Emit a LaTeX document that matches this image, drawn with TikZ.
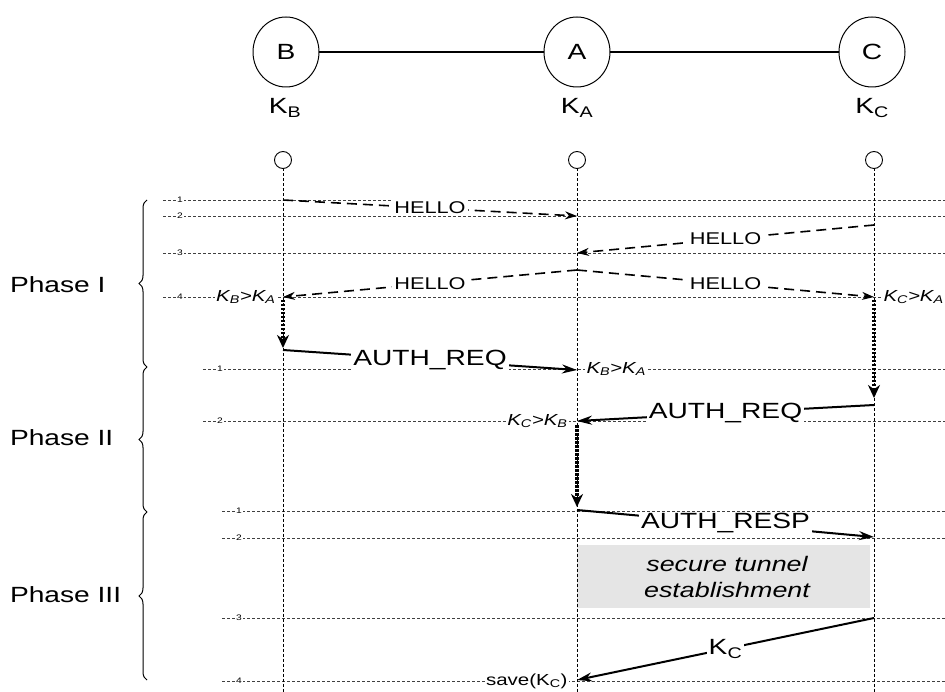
\documentclass[tikz,border=0pt]{standalone}
\usepackage{fontspec}
\setmainfont[FakeStretch=1.28]{Liberation Sans}
\usetikzlibrary{arrows.meta,decorations.pathreplacing,shapes.geometric}
\begin{document}
\begin{tikzpicture}[x=1pt,y=-1pt,
  every node/.style={inner sep=0pt, outer sep=0pt},
  life/.style={line width=0.9pt, dash pattern=on 3pt off 2pt},
  gridl/.style={black!75, line width=0.8pt, dash pattern=on 3pt off 2pt},
  num/.style={fill=white, inner sep=1.5pt, font=\fontsize{8}{8}\selectfont},
  hello/.style={line width=1.6pt, dash pattern=on 10pt off 6pt, -{Stealth[length=12pt,width=8pt]}},
  auth/.style={line width=2pt, -{Stealth[length=15pt,width=9pt]}},
  waitarr/.style={line width=3.6pt, dash pattern=on 2.5pt off 1.5pt, -{Stealth[length=13pt,width=12pt]}},
  msg/.style={fill=white, inner sep=2pt, font=\fontsize{17}{17}\selectfont},
  big/.style={fill=white, inner sep=2pt, font=\fontsize{22}{22}\selectfont},
  cmp/.style={font=\fontsize{16}{16}\selectfont, inner sep=1.5pt, fill=white},
  phase/.style={font=\fontsize{22}{22}\selectfont, anchor=west},
  ent/.style={draw, ellipse, minimum width=66pt, minimum height=70pt, line width=1pt, font=\fontsize{22}{22}\selectfont},
  key/.style={font=\fontsize{22}{22}\selectfont},
  small/.style={draw, circle, minimum size=17pt, line width=0.9pt},
  brc/.style={decorate, decoration={brace, amplitude=8pt}, line width=1pt}
]
\useasboundingbox (0,0) rectangle (945,692);

% entities
\node[ent] (B) at (286,52) {B};
\node[ent] (A) at (577,52) {A};
\node[ent] (C) at (872,52) {C};
\draw[line width=1.6pt] (B) -- (A);
\draw[line width=1.6pt] (A) -- (C);
\node[key] (kB) at (285,108) {K\textsubscript{B}};
\node[key] (kA) at (577,108) {K\textsubscript{A}};
\node[key] (kC) at (872,108) {K\textsubscript{C}};

% tunnel box
\fill[black!10] (577,545) rectangle (870,608);
\node[font=\fontsize{21}{26}\selectfont\itshape, align=center] (tun) at (727,577) {secure tunnel\\establishment};

% grid lines
\foreach \y/\n in {200/1,216/2,253/3,297/4}{
  \draw[gridl] (163,\y) -- (945,\y);
  \node[num] at (180,\y) {\n};
}
\foreach \y/\n in {369/1,421/2}{
  \draw[gridl] (203,\y) -- (945,\y);
  \node[num] at (220,\y) {\n};
}
\foreach \y/\n in {511/1,538/2,618/3,681/4}{
  \draw[gridl] (222,\y) -- (945,\y);
  \node[num] at (239,\y) {\n};
}

% lifelines
\node[small] (sB) at (283,160) {};
\node[small] (sA) at (577,160) {};
\node[small] (sC) at (874,160) {};
\coordinate (eB) at (283,692);
\coordinate (eA) at (577,692);
\coordinate (eC) at (874,692);
\draw[life] (sB) -- (eB);
\draw[life] (sA) -- (eA);
\draw[life] (sC) -- (eC);

% braces
\draw[brc] (147,367) -- (147,200);
\draw[brc] (147,512) -- (147,367);
\draw[brc] (147,680) -- (147,512);
\node[phase] (ph1) at (10,285) {Phase I};
\node[phase] (ph2) at (10,438) {Phase II};
\node[phase] (ph3) at (10,595) {Phase III};

% coordinates
\coordinate (h1s) at (283,200); \coordinate (h1e) at (577,216);
\coordinate (h2s) at (874,225); \coordinate (h2e) at (577,253);
\coordinate (h3s) at (577,270); \coordinate (h3e) at (283,297);
\coordinate (h4e) at (874,297);
\coordinate (wBs) at (283,300); \coordinate (wBe) at (283,348);
\coordinate (r1s) at (283,350); \coordinate (r1e) at (577,370);
\coordinate (wCs) at (874,300); \coordinate (wCe) at (874,398);
\coordinate (r2s) at (874,405); \coordinate (r2e) at (577,421);
\coordinate (wAs) at (577,425); \coordinate (wAe) at (577,507);
\coordinate (p1s) at (577,510); \coordinate (p1e) at (874,537);
\coordinate (k1s) at (874,618); \coordinate (k1e) at (577,680);

% messages
\draw[hello] (h1s) -- node[msg] {HELLO} (h1e);
\draw[hello] (h2s) -- node[msg] {HELLO} (h2e);
\draw[hello] (h3s) -- node[msg] {HELLO} (h3e);
\draw[hello] (h3s) -- node[msg] {HELLO} (h4e);
\draw[waitarr] (wBs) -- (wBe);
\draw[auth] (r1s) -- node[big] {AUTH\_REQ} (r1e);
\draw[waitarr] (wCs) -- (wCe);
\draw[auth] (r2s) -- node[big] {AUTH\_REQ} (r2e);
\draw[waitarr] (wAs) -- (wAe);
\draw[auth] (p1s) -- node[big] {AUTH\_RESP} (p1e);
\draw[auth] (k1s) -- node[big] {K\textsubscript{C}} (k1e);

% comparison labels
\node[cmp, anchor=east] (c1) at (277,297) {\itshape K\textsubscript{B}>K\textsubscript{A}};
\node[cmp, anchor=west] (c2) at (882,297) {\itshape K\textsubscript{C}>K\textsubscript{A}};
\node[cmp, anchor=west] (c3) at (585,369) {\itshape K\textsubscript{B}>K\textsubscript{A}};
\node[cmp, anchor=east] (c4) at (569,421) {\itshape K\textsubscript{C}>K\textsubscript{B}};
\node[cmp, anchor=east] (c5) at (569,681) {save(K\textsubscript{C})};
\end{tikzpicture}
\end{document}
